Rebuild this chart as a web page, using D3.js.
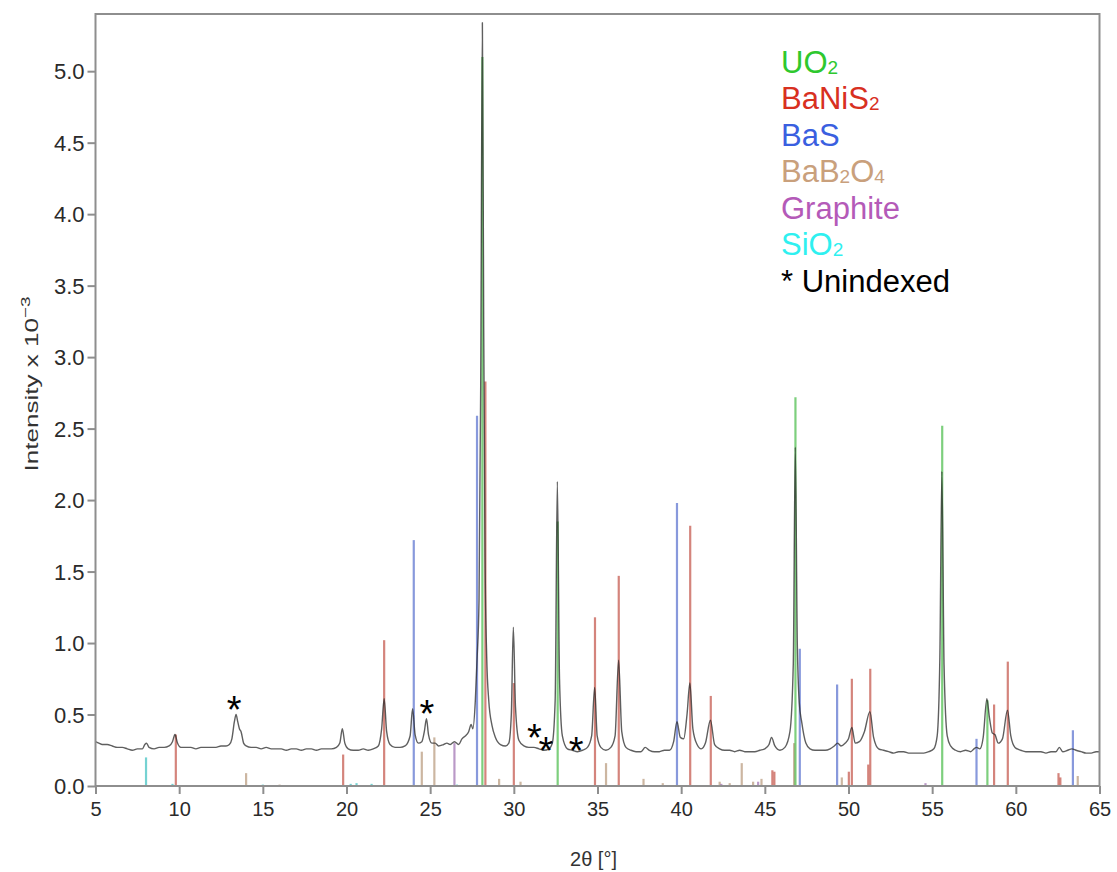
<!DOCTYPE html>
<html>
<head>
<meta charset="utf-8">
<script src="https://cdn.jsdelivr.net/npm/d3@7"></script>
<style>
  body { margin: 0; background: #fff; }
  text { font-family: "Liberation Sans", Arial, sans-serif; }
</style>
</head>
<body>
<svg id="chart" width="1117" height="872"></svg>
<script>
// Measured diffraction scan: [2θ (°), intensity ×10^-3]
const scan = [
  [5.0,0.31],[5.2,0.30],[5.4,0.29],[5.7,0.29],[6.0,0.28],[6.3,0.27],[6.6,0.27],[6.9,0.26],
  [7.2,0.25],[7.5,0.26],[7.8,0.26],[7.95,0.29],[8.05,0.30],[8.2,0.27],[8.5,0.26],[8.8,0.27],
  [9.1,0.27],[9.4,0.28],[9.6,0.31],[9.75,0.36],[9.9,0.30],[10.1,0.27],[10.4,0.27],[10.7,0.27],
  [11.0,0.26],[11.3,0.27],[11.6,0.27],[11.9,0.27],[12.2,0.27],[12.5,0.28],[12.8,0.28],[13.0,0.29],
  [13.15,0.33],[13.3,0.45],[13.4,0.50],[13.5,0.45],[13.6,0.40],[13.7,0.38],[13.85,0.30],[14.0,0.28],
  [14.3,0.27],[14.6,0.27],[14.9,0.26],[15.2,0.27],[15.5,0.26],[15.8,0.26],[16.1,0.26],[16.4,0.25],
  [16.7,0.26],[17.0,0.26],[17.3,0.25],[17.6,0.26],[17.9,0.26],[18.2,0.25],[18.5,0.26],[18.8,0.26],
  [19.1,0.26],[19.4,0.27],[19.6,0.30],[19.75,0.40],[19.9,0.30],[20.1,0.26],[20.4,0.25],[20.7,0.25],
  [21.0,0.26],[21.3,0.25],[21.6,0.26],[21.9,0.28],[22.1,0.40],[22.25,0.61],[22.4,0.38],[22.6,0.29],
  [22.9,0.27],[23.2,0.27],[23.5,0.28],[23.8,0.35],[23.95,0.54],[24.1,0.36],[24.3,0.30],[24.5,0.31],
  [24.65,0.38],[24.78,0.47],[24.9,0.36],[25.1,0.30],[25.3,0.30],[25.5,0.28],[25.8,0.29],[26.0,0.30],
  [26.2,0.29],[26.45,0.31],[26.7,0.29],[26.9,0.33],[27.1,0.35],[27.3,0.38],[27.45,0.43],[27.55,0.40],
  [27.7,0.60],[27.8,0.88],[27.92,1.30],[28.02,2.80],[28.12,5.34],[28.2,3.20],[28.28,1.60],[28.38,0.90],
  [28.5,0.60],[28.7,0.42],[28.9,0.34],[29.2,0.29],[29.5,0.28],[29.7,0.30],[29.85,0.50],[29.97,1.11],
  [30.1,0.55],[30.3,0.32],[30.6,0.28],[30.9,0.27],[31.2,0.27],[31.5,0.26],[31.8,0.25],[32.1,0.26],
  [32.3,0.30],[32.47,0.60],[32.6,2.13],[32.73,0.75],[32.9,0.35],[33.2,0.26],[33.5,0.25],[33.8,0.24],
  [34.1,0.25],[34.4,0.27],[34.65,0.35],[34.83,0.69],[34.98,0.35],[35.2,0.27],[35.5,0.25],[35.8,0.27],
  [36.05,0.35],[36.26,0.88],[36.45,0.38],[36.7,0.27],[37.0,0.25],[37.3,0.24],[37.6,0.24],[37.85,0.27],
  [38.1,0.25],[38.4,0.24],[38.7,0.24],[39.0,0.25],[39.3,0.25],[39.55,0.31],[39.75,0.45],[39.95,0.34],
  [40.15,0.33],[40.35,0.50],[40.52,0.72],[40.7,0.40],[40.95,0.29],[41.2,0.26],[41.45,0.30],[41.75,0.46],
  [42.0,0.29],[42.3,0.26],[42.6,0.25],[42.9,0.25],[43.2,0.24],[43.5,0.25],[43.8,0.24],[44.1,0.24],
  [44.4,0.24],[44.7,0.25],[45.0,0.26],[45.25,0.29],[45.4,0.34],[45.6,0.28],[45.9,0.25],[46.2,0.27],
  [46.5,0.38],[46.7,0.85],[46.82,2.37],[46.94,1.00],[47.06,0.58],[47.2,0.45],[47.45,0.30],[47.7,0.26],
  [48.0,0.25],[48.3,0.25],[48.6,0.25],[48.9,0.26],[49.15,0.28],[49.35,0.30],[49.55,0.28],[49.8,0.30],
  [50.0,0.33],[50.2,0.41],[50.4,0.30],[50.65,0.31],[50.95,0.38],[51.28,0.52],[51.5,0.34],[51.8,0.26],
  [52.1,0.25],[52.4,0.24],[52.7,0.23],[53.0,0.24],[53.3,0.24],[53.6,0.23],[53.9,0.23],[54.2,0.23],
  [54.5,0.23],[54.8,0.24],[55.1,0.26],[55.3,0.35],[55.46,0.90],[55.58,2.20],[55.71,0.85],[55.9,0.35],
  [56.1,0.28],[56.4,0.25],[56.7,0.24],[57.0,0.25],[57.3,0.24],[57.5,0.26],[57.65,0.27],[57.85,0.26],
  [58.05,0.34],[58.27,0.61],[58.42,0.48],[58.6,0.37],[58.75,0.36],[58.95,0.30],[59.2,0.33],[59.5,0.53],
  [59.7,0.35],[59.95,0.27],[60.3,0.25],[60.6,0.24],[60.9,0.24],[61.2,0.24],[61.5,0.24],[61.8,0.23],
  [62.1,0.24],[62.4,0.24],[62.6,0.27],[62.8,0.24],[63.1,0.25],[63.35,0.26],[63.6,0.25],[63.9,0.24],
  [64.2,0.23],[64.5,0.23],[64.8,0.24],[65.0,0.24]
];

// Reference reflections for each phase: positions (2θ) and intensities
const uo2Pos = [28.12, 32.62, 46.83, 55.6, 58.3];
const uo2Int = [5.10, 1.85, 2.72, 2.52, 0.60];

const baNiS2Pos = [9.8, 19.8, 22.25, 28.3, 30.0, 34.85, 36.27, 40.54, 41.77, 45.45, 45.57, 50.02, 50.2, 51.18, 51.3, 58.7, 59.52, 62.55, 62.66];
const baNiS2Int = [0.36, 0.22, 1.02, 2.83, 0.72, 1.18, 1.47, 1.82, 0.63, 0.11, 0.10, 0.10, 0.75, 0.15, 0.82, 0.57, 0.87, 0.09, 0.06];

const baSPos = [24.02, 27.8, 39.75, 47.09, 49.32, 57.65, 63.41];
const baSInt = [1.72, 2.59, 1.98, 0.96, 0.71, 0.33, 0.39];

const baB2O4Pos = [14.0, 16.0, 24.5, 25.25, 29.12, 30.4, 35.51, 37.75, 38.9, 42.3, 42.9, 43.62, 44.3, 44.8, 46.75, 49.6, 63.7];
const baB2O4Int = [0.09, 0.01, 0.24, 0.34, 0.05, 0.03, 0.16, 0.05, 0.02, 0.03, 0.02, 0.16, 0.03, 0.05, 0.30, 0.06, 0.07];

const graphitePos = [26.45, 42.4, 44.6, 54.6];
const graphiteInt = [0.30, 0.015, 0.03, 0.02];

const siO2Pos = [8.02, 9.6, 15.0, 20.25, 20.6, 21.5, 26.6];
const siO2Int = [0.20, 0.015, 0.01, 0.015, 0.02, 0.015, 0.01];

// Legend labels ("_" marks a subscript digit), legend colours and stick colours
const phaseLabels = ["UO_2", "BaNiS_2", "BaS", "BaB_2O_4", "Graphite", "SiO_2", "* Unindexed"];
const phaseColors = ["#2ec82e", "#d8301f", "#3a5fe0", "#c9a07c", "#b45ab8", "#2ff0f0", "#000000"];
const stickColors = ["#3fb83f", "#c04a3e", "#5068cc", "#b49474", "#9a68ac", "#34bcbc"];

// Peaks with no matching phase
const unindexedPos = [13.28, 24.8, 31.23, 31.91, 33.72];
const unindexedLabelAt = [0.58, 0.555, 0.385, 0.294, 0.294];

const xTicks = [5, 10, 15, 20, 25, 30, 35, 40, 45, 50, 55, 60, 65];
const yTicks = [0, 0.5, 1, 1.5, 2, 2.5, 3, 3.5, 4, 4.5, 5];

const svg = d3.select("#chart");
const W = 1117, H = 872;
const margin = { left: 95.5, right: 17.5, top: 14, bottom: 86 };

const x = d3.scaleLinear().domain([5, 65]).range([margin.left, W - margin.right]);
const y = d3.scaleLinear().domain([0, 5.4]).range([H - margin.bottom, margin.top]);

svg.append("rect").attr("width", W).attr("height", H).attr("fill", "#fff");

// Phase reflection sticks
const phases = [
  { pos: baB2O4Pos, int: baB2O4Int, color: stickColors[3] },
  { pos: siO2Pos, int: siO2Int, color: stickColors[5] },
  { pos: graphitePos, int: graphiteInt, color: stickColors[4] },
  { pos: baSPos, int: baSInt, color: stickColors[2] },
  { pos: baNiS2Pos, int: baNiS2Int, color: stickColors[1] },
  { pos: uo2Pos, int: uo2Int, color: stickColors[0] }
];

const sticks = svg.append("g").attr("class", "sticks");
phases.forEach(p => {
  sticks.selectAll(null)
    .data(p.pos.map((d, i) => [d, p.int[i]]))
    .enter().append("line")
    .attr("x1", d => x(d[0])).attr("x2", d => x(d[0]))
    .attr("y1", y(0)).attr("y2", d => y(d[1]))
    .attr("stroke", p.color)
    .attr("stroke-width", 2.2)
    .attr("stroke-opacity", 0.68);
});

// Measured scan
const line = d3.line()
  .x(d => x(d[0]))
  .y(d => y(d[1]))
  .curve(d3.curveMonotoneX);

svg.append("path")
  .datum(scan)
  .attr("d", line)
  .attr("fill", "none")
  .attr("stroke", "#2a2a2a")
  .attr("stroke-opacity", 0.75)
  .attr("stroke-width", 1.4)
  .attr("stroke-linejoin", "round");

// Axes
const axisColor = "#8e8e8e";
const gx = svg.append("g")
  .attr("transform", `translate(0,${y(0)})`)
  .call(d3.axisBottom(x).tickValues(xTicks).tickFormat(d3.format("d")).tickSize(8).tickPadding(8));
const gy = svg.append("g")
  .attr("transform", `translate(${x(5)},0)`)
  .call(d3.axisLeft(y).tickValues(yTicks).tickFormat(d3.format(".1f")).tickSize(8).tickPadding(3));

[gx, gy].forEach(g => {
  g.select(".domain").remove();
  g.selectAll(".tick line").attr("stroke", axisColor).attr("stroke-width", 2);
  g.selectAll(".tick text").attr("fill", "#2a2a2a").attr("font-family", "Liberation Sans, Arial, sans-serif");
});
gx.selectAll(".tick text").attr("font-size", 20);
gy.selectAll(".tick text").attr("font-size", 22).attr("dy", "0.35em");

// Plot frame
svg.append("rect")
  .attr("x", x(5)).attr("y", y(5.4))
  .attr("width", x(65) - x(5)).attr("height", y(0) - y(5.4))
  .attr("fill", "none")
  .attr("stroke", axisColor)
  .attr("stroke-width", 2);

// Axis titles
svg.append("text")
  .attr("x", (x(5) + x(65)) / 2 - 4)
  .attr("y", 866)
  .attr("text-anchor", "middle")
  .attr("font-size", 20)
  .attr("fill", "#333")
  .text("2θ [°]");

const yTitle = svg.append("text")
  .attr("transform", `translate(38,384) rotate(-90) scale(1.45,1)`)
  .attr("text-anchor", "middle")
  .attr("font-size", 18)
  .attr("fill", "#333");
yTitle.append("tspan").text("Intensity x 10");
yTitle.append("tspan").attr("dy", -8).attr("font-size", 13).text("−3");

// Unindexed markers
svg.append("g").selectAll("text")
  .data(unindexedPos.map((d, i) => [d, unindexedLabelAt[i]]))
  .enter().append("text")
  .attr("x", d => x(d[0]))
  .attr("y", d => y(d[1]) + 20)
  .attr("text-anchor", "middle")
  .attr("font-family", "Liberation Serif, serif")
  .attr("font-size", 38)
  .attr("fill", "#000")
  .text("*");

// Legend
const legend = svg.append("g").attr("transform", "translate(781,72.7)");
phaseLabels.forEach((lab, i) => {
  const t = legend.append("text")
    .attr("x", 0).attr("y", i * 36.5)
    .attr("font-size", 31)
    .attr("fill", phaseColors[i]);
  const parts = lab.split(/(_\d)/).filter(s => s.length);
  let shifted = false;
  parts.forEach(s => {
    if (s.startsWith("_")) {
      t.append("tspan").attr("font-size", 19).attr("dy", shifted ? 0 : 1).text(s.slice(1));
      shifted = true;
    } else {
      t.append("tspan").attr("dy", shifted ? -1 : 0).text(s);
      shifted = false;
    }
  });
});
</script>
</body>
</html>
